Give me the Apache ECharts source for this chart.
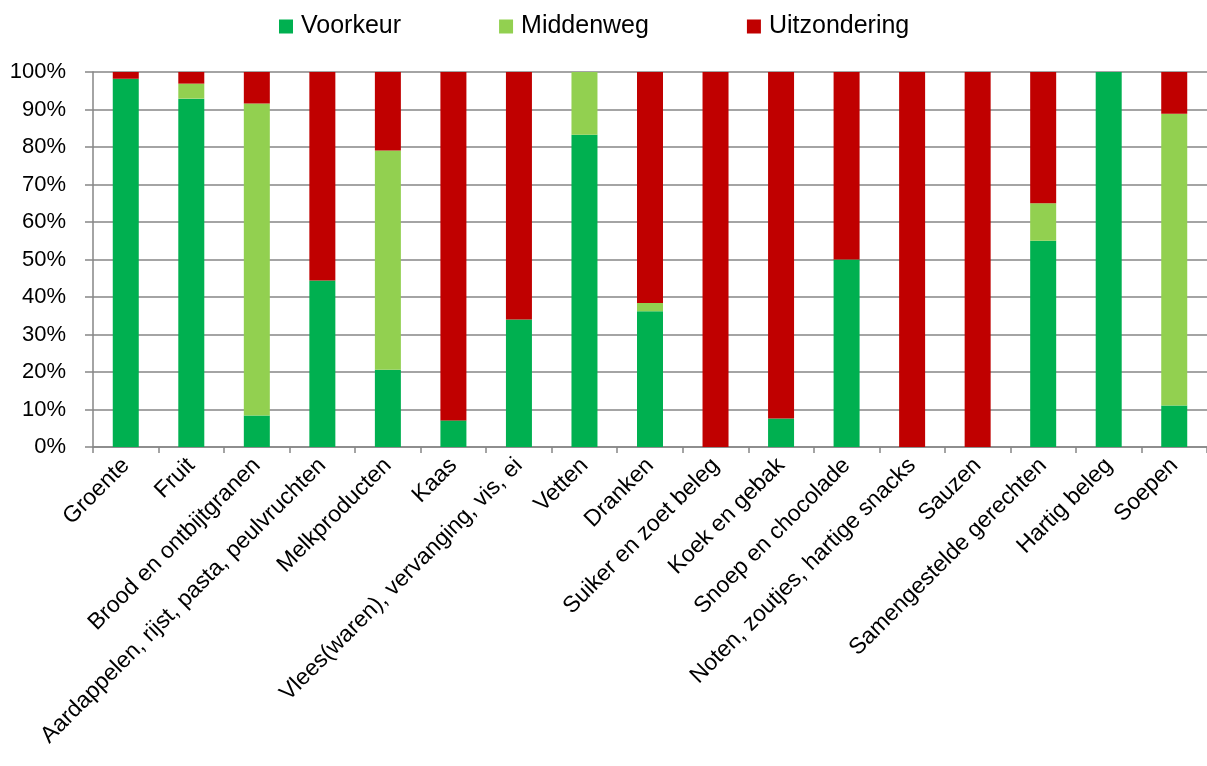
<!DOCTYPE html>
<html>
<head>
<meta charset="utf-8">
<script src="https://cdn.jsdelivr.net/npm/echarts@6/dist/echarts.min.js"></script>
<style>
  html, body { margin: 0; padding: 0; background: #fff; }
  #chart { width: 1207px; height: 766px; }
</style>
</head>
<body>
<div id="chart"></div>
<script>
const categories = [
  'Groente', 'Fruit', 'Brood en ontbijtgranen', 'Aardappelen, rijst, pasta, peulvruchten',
  'Melkproducten', 'Kaas', 'Vlees(waren), vervanging, vis, ei', 'Vetten', 'Dranken',
  'Suiker en zoet beleg', 'Koek en gebak', 'Snoep en chocolade', 'Noten, zoutjes, hartige snacks',
  'Sauzen', 'Samengestelde gerechten', 'Hartig beleg', 'Soepen'
]
const voorkeur     = [98.2, 92.9, 8.4, 44.4, 20.6, 7.1, 34.0, 83.3, 36.2, 0, 7.6, 50.0, 0, 0, 55.0, 100, 11.1]
const middenweg    = [0, 4.0, 83.2, 0, 58.5, 0, 0, 16.7, 2.2, 0, 0, 0, 0, 0, 10.0, 0, 77.8]
const uitzondering = [1.8, 3.1, 8.4, 55.6, 20.9, 92.9, 66.0, 0, 61.6, 100, 92.4, 50.0, 100, 100, 35.0, 0, 11.1]

const FONT = '"Liberation Sans", Arial, sans-serif'
const AXIS_GRAY = '#868686'

const chart = echarts.init(document.getElementById('chart'))

const bar = (name, data, color) => ({
  name,
  type: 'bar',
  stack: 'total',
  data,
  barWidth: 26,
  itemStyle: { color },
  emphasis: { disabled: true },
})

chart.setOption({
  animation: false,
  backgroundColor: '#fff',
  textStyle: { fontFamily: FONT },
  legend: {
    top: 9,
    left: 274,
    itemWidth: 14,
    itemHeight: 14,
    itemGap: 98,
    icon: 'rect',
    textStyle: { fontSize: 25, color: '#000', fontFamily: FONT, padding: [0, 0, 0, 3] },
    data: ['Voorkeur', 'Middenweg', 'Uitzondering'],
  },
  grid: { left: 93, top: 72, width: 1116, height: 375 },
  xAxis: {
    type: 'category',
    data: categories,
    axisLine:  { lineStyle: { color: AXIS_GRAY, width: 1.5 } },
    axisTick:  { show: true, length: 6, lineStyle: { color: AXIS_GRAY, width: 1.5 } },
    axisLabel: {
      rotate: 45,
      interval: 0,
      margin: 15,
      fontSize: 23,
      color: '#000',
      fontFamily: FONT,
    },
  },
  yAxis: {
    type: 'value',
    min: 0,
    max: 100,
    interval: 10,
    axisLine:  { show: true, lineStyle: { color: AXIS_GRAY, width: 1.5 } },
    axisTick:  { show: true, length: 8, lineStyle: { color: AXIS_GRAY, width: 1.5 } },
    splitLine: { lineStyle: { color: AXIS_GRAY, width: 1.5 } },
    axisLabel: {
      formatter: '{value}%',
      margin: 27,
      fontSize: 22,
      color: '#000',
      fontFamily: FONT,
    },
  },
  series: [
    bar('Voorkeur', voorkeur, '#00b050'),
    bar('Middenweg', middenweg, '#92d050'),
    bar('Uitzondering', uitzondering, '#c00000'),
  ],
})
</script>
</body>
</html>
